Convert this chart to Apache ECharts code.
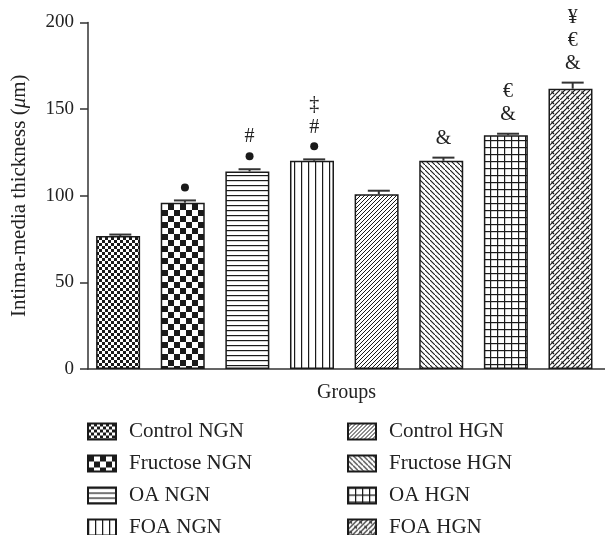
<!DOCTYPE html>
<html>
<head>
<meta charset="utf-8">
<script src="https://cdn.jsdelivr.net/npm/echarts@6/dist/echarts.min.js"></script>
<style>
  html, body { margin: 0; padding: 0; background: #fff; }
  #chart { width: 605px; height: 535px; }
</style>
</head>
<body>
<div id="chart"></div>
<script>
// groups and measured means / SEM
const groups = ['Control NGN', 'Fructose NGN', 'OA NGN', 'FOA NGN',
                'Control HGN', 'Fructose HGN', 'OA HGN', 'FOA HGN'];
const means = [76.8, 96, 114, 120.2, 100.8, 120.2, 134.9, 161.8];
const sems = [0.8, 1.3, 1.3, 0.8, 2.1, 1.8, 0.9, 3.5];
// significance marks, listed from bottom to top
const marks = [[], ['●'], ['●', '#'], ['●', '#', '‡'], [], ['&'], ['&', '€'], ['&', '€', '¥']];
const yTicks = [0, 50, 100, 150, 200];

const FONT = 'Liberation Serif';
const INK = '#1a1a1a';

// small canvas tiles used as hatch fills
function tile(w, h, draw) {
    const c = document.createElement('canvas');
    c.width = w; c.height = h;
    const g = c.getContext('2d');
    g.fillStyle = '#fff';
    g.fillRect(0, 0, w, h);
    g.fillStyle = INK;
    g.strokeStyle = INK;
    draw(g, w, h);
    return { image: c, repeat: 'repeat' };
}
function seg(g, x1, y1, x2, y2, lw) {
    g.lineWidth = lw || 1;
    g.beginPath(); g.moveTo(x1, y1); g.lineTo(x2, y2); g.stroke();
}

const patterns = [
    // fine checker
    tile(6, 6, g => { g.fillRect(0, 0, 3, 3); g.fillRect(3, 3, 3, 3); }),
    // coarse checker
    tile(12, 12, g => { g.fillRect(0, 0, 6, 6); g.fillRect(6, 6, 6, 6); }),
    // horizontal lines
    tile(8, 5, g => { g.fillRect(0, 0, 8, 1.2); }),
    // vertical lines
    tile(7, 8, g => { g.fillRect(0, 0, 1.2, 8); }),
    // forward diagonal
    tile(4, 4, g => { seg(g, -1, 5, 5, -1, 1); }),
    // back diagonal
    tile(5, 5, g => { seg(g, -1, -1, 6, 6, 1.1); }),
    // square grid
    tile(7, 7, g => { g.fillRect(0, 0, 7, 1.2); g.fillRect(0, 0, 1.2, 7); }),
    // diagonal weave
    tile(10, 10, g => {
        seg(g, -1, 11, 11, -1, 1.2);
        seg(g, -1, 6, 6, -1, 1.2);
        seg(g, 4, 11, 11, 4, 1.2);
        seg(g, 1.5, 1.5, 4, 4, 1.2);
        seg(g, 6.5, 6.5, 9, 9, 1.2);
    })
];

const chart = echarts.init(document.getElementById('chart'));

const barData = means.map((v, i) => ({
    value: v,
    itemStyle: { color: patterns[i] }
}));

const errData = means.map((v, i) => [i, v, v + sems[i]]);

// dummy series so each group gets its own legend entry
const legendSeries = groups.map((name, i) => ({
    name: name,
    type: 'bar',
    data: [],
    itemStyle: { color: patterns[i], borderColor: INK, borderWidth: 1 }
}));

function legendBox(names, left) {
    return {
        data: names,
        orient: 'vertical',
        left: left, top: 421, height: 160,
        padding: 0,
        icon: 'rect',
        itemWidth: 28, itemHeight: 16, itemGap: 11,
        textStyle: { fontFamily: FONT, fontSize: 21, color: '#222', padding: [0, 0, 0, 8] }
    };
}

chart.setOption({
    animation: false,
    backgroundColor: '#fff',
    textStyle: { fontFamily: FONT },
    grid: { left: 88, top: 22.5, width: 519, height: 346.5 },
    legend: [legendBox(groups.slice(0, 4), 87), legendBox(groups.slice(4), 347)],
    xAxis: {
        type: 'category',
        data: groups,
        name: 'Groups',
        nameLocation: 'middle',
        nameGap: 14,
        nameTextStyle: { fontFamily: FONT, fontSize: 20, color: '#222' },
        axisLine: { lineStyle: { color: '#333', width: 1.5 } },
        axisTick: { show: false },
        axisLabel: { show: false }
    },
    yAxis: {
        type: 'value',
        min: 0, max: 200, interval: 50,
        name: 'Intima-media thickness ({i|μ}m)',
        nameLocation: 'middle',
        nameGap: 58,
        nameTextStyle: {
            fontFamily: FONT, fontSize: 21, color: '#222',
            rich: { i: { fontFamily: FONT, fontSize: 21, fontStyle: 'italic', color: '#222' } }
        },
        axisLine: { show: true, lineStyle: { color: '#333', width: 1.5 } },
        axisTick: { show: true, length: 8, lineStyle: { color: '#333', width: 1.5 } },
        axisLabel: {
            margin: 14, fontFamily: FONT, fontSize: 19, color: '#222',
            formatter: v => yTicks.includes(v) ? String(v) : ''
        },
        splitLine: { show: false }
    },
    series: [
        {
            type: 'bar',
            data: barData,
            barWidth: 44,
            z: 2,
            itemStyle: { borderColor: INK, borderWidth: 1.5 }
        },
        {
            type: 'custom',
            data: errData,
            z: 3,
            renderItem: (params, api) => {
                const base = api.coord([api.value(0), api.value(1)]);
                const top = api.coord([api.value(0), api.value(2)]);
                const style = { stroke: '#333', lineWidth: 2 };
                return {
                    type: 'group',
                    children: [
                        { type: 'line', shape: { x1: base[0], y1: base[1], x2: top[0], y2: top[1] }, style: style },
                        { type: 'line', shape: { x1: top[0] - 11, y1: top[1], x2: top[0] + 11, y2: top[1] }, style: style }
                    ]
                };
            }
        },
        {
            type: 'custom',
            data: errData,
            z: 4,
            renderItem: (params, api) => {
                const i = params.dataIndex;
                const top = api.coord([api.value(0), api.value(2)]);
                const children = [];
                let y = top[1];
                let prevDot = null;
                marks[i].forEach(m => {
                    if (m === '●') {
                        y -= 13;
                        children.push({ type: 'circle', shape: { cx: top[0], cy: y, r: 4 }, style: { fill: INK } });
                        prevDot = true;
                    } else {
                        y -= prevDot === null ? 19 : (prevDot ? 19 : 23);
                        children.push({
                            type: 'text',
                            style: {
                                text: m, x: top[0], y: y,
                                align: 'center', verticalAlign: 'middle',
                                font: '20px "' + FONT + '"', fill: '#222'
                            }
                        });
                        prevDot = false;
                    }
                });
                return { type: 'group', children: children };
            }
        }
    ].concat(legendSeries)
});
</script>
</body>
</html>
